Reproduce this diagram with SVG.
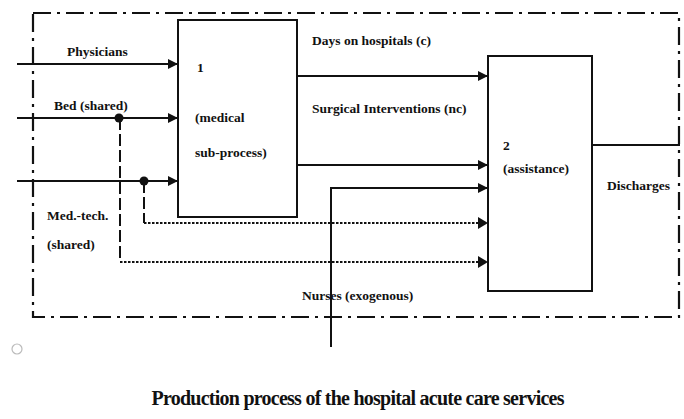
<svg xmlns="http://www.w3.org/2000/svg" width="684" height="419" viewBox="0 0 684 419">
<style>
.t{font-family:"Liberation Serif","Times New Roman",serif;font-weight:bold;font-size:13.5px;fill:#111}
.box{fill:#fff;stroke:#111;stroke-width:2}
.ln{fill:none;stroke:#111;stroke-width:2}
.dot{fill:none;stroke:#111;stroke-width:2.2;stroke-dasharray:2.5 1.5}
.dash{fill:none;stroke:#111;stroke-width:2;stroke-dasharray:12 4}
.border{fill:none;stroke:#111;stroke-width:2.2;stroke-dasharray:18 6 3 6}
</style>
<defs>
<marker id="ah" markerWidth="10" markerHeight="10" refX="9" refY="5" orient="auto" markerUnits="userSpaceOnUse">
<path d="M0,0 L10,5 L0,10 Z" fill="#111"/>
</marker>
</defs>
<rect width="684" height="419" fill="#fff"/>
<g id="boundary">
<rect class="border" x="33" y="13" width="646" height="304"/>
</g>
<g id="connectors">
<line class="ln" x1="17" y1="64" x2="177" y2="64" marker-end="url(#ah)"/>
<line class="ln" x1="17" y1="118" x2="177" y2="118" marker-end="url(#ah)"/>
<line class="ln" x1="17" y1="181" x2="177" y2="181" marker-end="url(#ah)"/>
<circle cx="119" cy="118" r="4.5" fill="#111"/>
<circle cx="144" cy="181" r="4.5" fill="#111"/>
<path class="dash" d="M120,118 V262"/>
<path class="dash" d="M144,181 V223"/>
<path class="dot" d="M144,223 H478"/>
<path class="dot" d="M120,262 H478"/>
<path d="M478,217 L488,223 L478,229 Z" fill="#111"/>
<path d="M478,256 L488,262 L478,268 Z" fill="#111"/>
<line class="ln" x1="297" y1="76" x2="487" y2="76" marker-end="url(#ah)"/>
<line class="ln" x1="297" y1="165" x2="487" y2="165" marker-end="url(#ah)"/>
<path class="ln" d="M331,347 V188 H487" marker-end="url(#ah)"/>
<line class="ln" x1="592" y1="145" x2="680" y2="145"/>
</g>
<g id="node1">
<rect class="box" x="178" y="20" width="119" height="197"/>
<text class="t" x="197" y="72">1</text>
<text class="t" x="195" y="122">(medical</text>
<text class="t" x="195" y="157">sub-process)</text>
</g>
<g id="node2">
<rect class="box" x="488" y="56" width="104" height="235"/>
<text class="t" x="503" y="150">2</text>
<text class="t" x="503" y="173">(assistance)</text>
</g>
<g id="labels">
<text class="t" x="67" y="56">Physicians</text>
<text class="t" x="54" y="110">Bed (shared)</text>
<text class="t" x="47" y="220">Med.-tech.</text>
<text class="t" x="47" y="249">(shared)</text>
<text class="t" x="312" y="45">Days on hospitals (c)</text>
<text class="t" x="312" y="113">Surgical Interventions (nc)</text>
<text class="t" x="607" y="190">Discharges</text>
<text class="t" x="302" y="300">Nurses (exogenous)</text>
</g>
<circle cx="17" cy="349" r="5" fill="none" stroke="#bbb" stroke-width="1.2"/>
<text x="358" y="405" text-anchor="middle" textLength="413" style="font-family:'Liberation Serif','Times New Roman',serif;font-weight:bold;font-size:20px;fill:#111">Production process of the hospital acute care services</text>
</svg>
